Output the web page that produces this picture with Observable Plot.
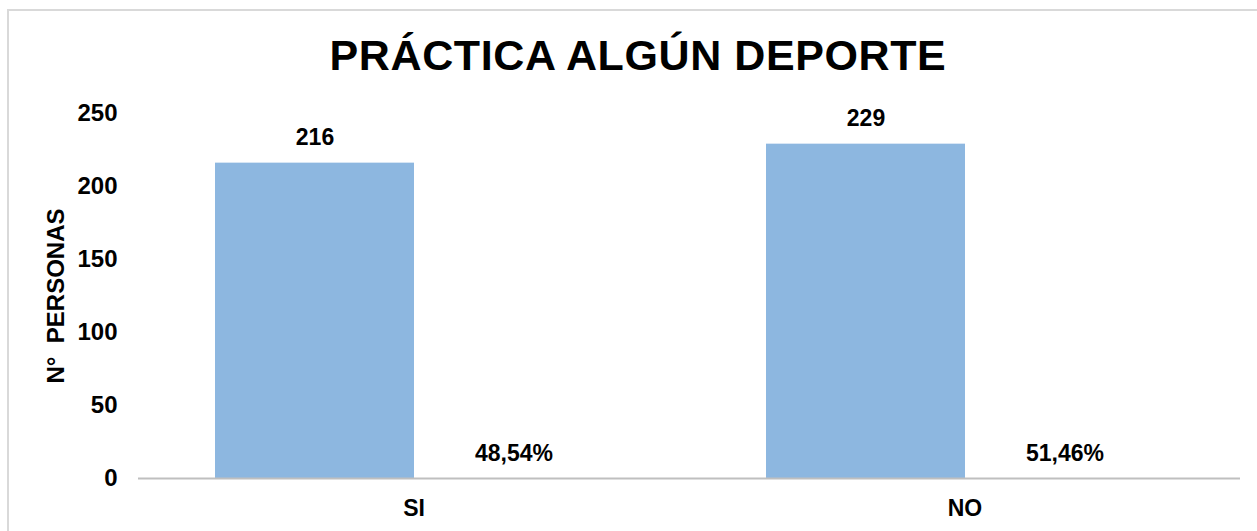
<!DOCTYPE html>
<html>
<head>
<meta charset="utf-8">
<script src="https://cdn.jsdelivr.net/npm/d3@7"></script>
<script src="https://cdn.jsdelivr.net/npm/@observablehq/plot@0.6"></script>
<style>
  html, body { margin: 0; padding: 0; background: #ffffff; }
  #wrap { position: relative; width: 1257px; height: 531px; overflow: hidden; background: #ffffff;
          font-family: "Liberation Sans", Arial, sans-serif; }
  #frame { position: absolute; left: 7px; top: 9px; width: 1300px; height: 600px;
           border-top: 2px solid #d9d9d9; border-left: 2px solid #d9d9d9; box-sizing: border-box; }
  #title { position: absolute; top: 34px; left: 0; width: 1257px; padding-left: 19px; box-sizing: border-box;
           text-align: center; font-size: 43px; line-height: 1; font-weight: bold; letter-spacing: 0.6px; color: #000; }
  #chart { position: absolute; left: 0; top: 92px; }
</style>
</head>
<body>
<div id="wrap">
  <div id="frame"></div>
  <div id="title">PRÁCTICA ALGÚN DEPORTE</div>
  <div id="chart"></div>
</div>
<script>
const categories = ["SI", "NO"];
const counts = [216, 229];
const percents = [48.54, 51.46];
const yTicks = [0, 50, 100, 150, 200, 250];
const series = ["count", "pct"];
const yLabel = "N°\u00a0 PERSONAS";

const rows = categories.map((c, i) => ({cat: c, count: counts[i], pct: percents[i]}));

const chart = Plot.plot({
  width: 1257,
  height: 439,
  marginLeft: 138,
  marginRight: 17,
  marginTop: 21,
  marginBottom: 53,
  style: {
    fontFamily: "'Liberation Sans', Arial, sans-serif",
    fontWeight: "bold",
    fontSize: "23px",
    color: "#000",
    background: "transparent"
  },
  fx: {domain: categories, padding: 0, label: null},
  x: {domain: series, paddingInner: 0, paddingOuter: 0.38, axis: null},
  y: {domain: [0, 250], label: null},
  marks: [
    Plot.axisY({ticks: yTicks, tickSize: 0, tickPadding: 21, fontSize: 24,
                label: yLabel, labelAnchor: "center", labelArrow: "none", labelOffset: 92}),
    Plot.axisFx({anchor: "bottom", tickSize: 0, tickPadding: 21, fontSize: 23, label: null}),
    Plot.barY(rows, {fx: "cat", x: () => "count", y: "count", fill: "#8db7e0"}),
    Plot.ruleY([0], {stroke: "#bfbfbf", strokeWidth: 2}),
    Plot.text(rows, {fx: "cat", x: () => "count", y: "count", text: d => String(d.count), dy: -26, fontSize: 23}),
    Plot.text(rows, {fx: "cat", x: () => "pct", y: () => 0,
                     text: d => d.pct.toFixed(2).replace(".", ",") + "%", dy: -25, fontSize: 23})
  ]
});
document.getElementById("chart").appendChild(chart);
</script>
</body>
</html>
